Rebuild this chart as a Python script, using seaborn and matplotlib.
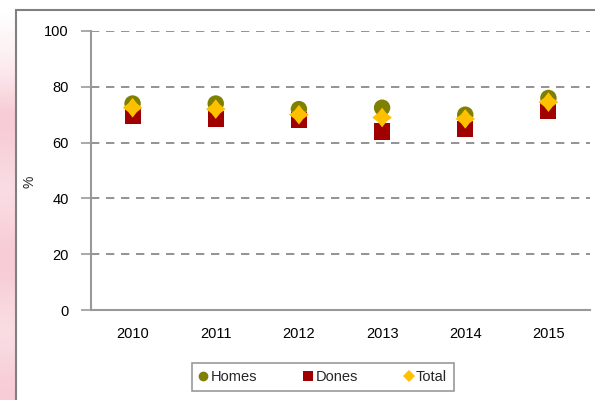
import numpy as np
import pandas as pd
import matplotlib
matplotlib.use("Agg")
import matplotlib.pyplot as plt
from matplotlib.patches import Rectangle
from matplotlib.path import Path
import seaborn as sns

years = ["2010", "2011", "2012", "2013", "2014", "2015"]
homes = [74.0, 74.0, 72.0, 72.5, 70.0, 76.0]
dones = [69.5, 68.5, 68.0, 64.0, 65.0, 71.5]
total = [72.5, 72.0, 70.0, 69.0, 68.5, 74.5]
series_names = ["Homes", "Dones", "Total"]
y_ticks = [0, 20, 40, 60, 80, 100]

sns.set_theme(style="white")
plt.rcParams["font.family"] = ["Liberation Sans", "DejaVu Sans"]

df = pd.DataFrame({
    "year": years * 3,
    "value": homes + dones + total,
    "series": [s for s in series_names for _ in years],
})

fig = plt.figure(figsize=(5.95, 4.0), dpi=100)
fig.patch.set_facecolor("white")

# left pink gradient strip
gax = fig.add_axes([0, 0, 16 / 595, 1])
t = np.linspace(0, 1, 200)  # 0 = bottom, 1 = top
alpha = np.clip((0.97 - t) / 0.25, 0, 1) * (0.85 + 0.15 * np.cos(t * 18))
col = np.ones((200, 1, 3))
pink = np.array([0.97, 0.80, 0.84])
col[:, 0, :] = 1 - alpha[:, None] * (1 - pink)
gax.imshow(col[::-1], aspect="auto", extent=[0, 1, 0, 1])
gax.set_axis_off()

# chart frame
fig.patches.append(Rectangle((16 / 595, -0.01), 1.0, 1 - 10 / 400 + 0.01,
                             transform=fig.transFigure, fill=False,
                             edgecolor="#808080", linewidth=1.5))

ax = fig.add_axes([91 / 595, 1 - 310 / 400, (590 - 91) / 595, (310 - 31) / 400])
ax.set_facecolor("white")

ri = 0.44
star = Path([(0, 1), (ri, ri), (1, 0), (ri, -ri), (0, -1), (-ri, -ri), (-1, 0), (-ri, ri), (0, 1)],
            [Path.MOVETO] + [Path.LINETO] * 7 + [Path.CLOSEPOLY])

styles = {
    "Homes": dict(marker="o", color="#7f7f00", s=140),
    "Dones": dict(marker="s", color="#a00000", s=135),
    "Total": dict(marker=star, color="#ffc000", s=200),
}
for name in series_names:
    st = styles[name]
    sns.scatterplot(data=df[df["series"] == name], x="year", y="value",
                    marker=st["marker"], color=st["color"], s=st["s"],
                    edgecolor="none", linewidth=0, ax=ax, label=name,
                    legend=False, zorder=3)

ax.set_xlim(-0.5, len(years) - 0.5)
ax.set_ylim(0, 100)
ax.set_yticks(y_ticks)
ax.set_yticklabels([str(v) for v in y_ticks], fontsize=10.5, color="black")
ax.set_xticks(range(len(years)))
ax.set_xticklabels(years, fontsize=10.5, color="black")
ax.set_xticks(np.arange(-0.5, len(years), 1.0), minor=True)
ax.tick_params(axis="x", which="major", length=0, pad=12)
ax.tick_params(axis="x", which="minor", length=5, width=1.2, color="#999999", direction="out")
ax.tick_params(axis="y", length=7, width=1.2, color="#999999", direction="out", pad=9, left=True)
ax.set_xlabel("")
ax.set_ylabel("%", fontsize=10)
ax.yaxis.set_label_coords((37 - 91) / 499, 0.46)

for y in y_ticks[1:]:
    ax.axhline(y, color="#808080", linestyle=(0, (5, 4)), linewidth=1.2, zorder=1)

for side in ["top", "right"]:
    ax.spines[side].set_visible(False)
for side in ["left", "bottom"]:
    ax.spines[side].set_color("#999999")
    ax.spines[side].set_linewidth(1.5)

legend_markers = {"Homes": "o", "Dones": "s", "Total": "D"}
handles = [
    plt.Line2D([], [], marker=legend_markers[n], color=styles[n]["color"], linestyle="none",
               markersize={"Homes": 7, "Dones": 7, "Total": 6}[n], markeredgewidth=0)
    for n in series_names
]
leg = fig.legend(handles, series_names, loc="center", bbox_to_anchor=(323 / 595, 1 - 377 / 400),
                 ncol=3, frameon=True, fancybox=False, edgecolor="#808080", fontsize=10.5,
                 handlelength=0.6, handletextpad=0.2, columnspacing=3.2, borderpad=0.5,
                 borderaxespad=0)
leg.get_frame().set_linewidth(1.2)

fig.savefig("out.png", dpi=100, facecolor="white")
